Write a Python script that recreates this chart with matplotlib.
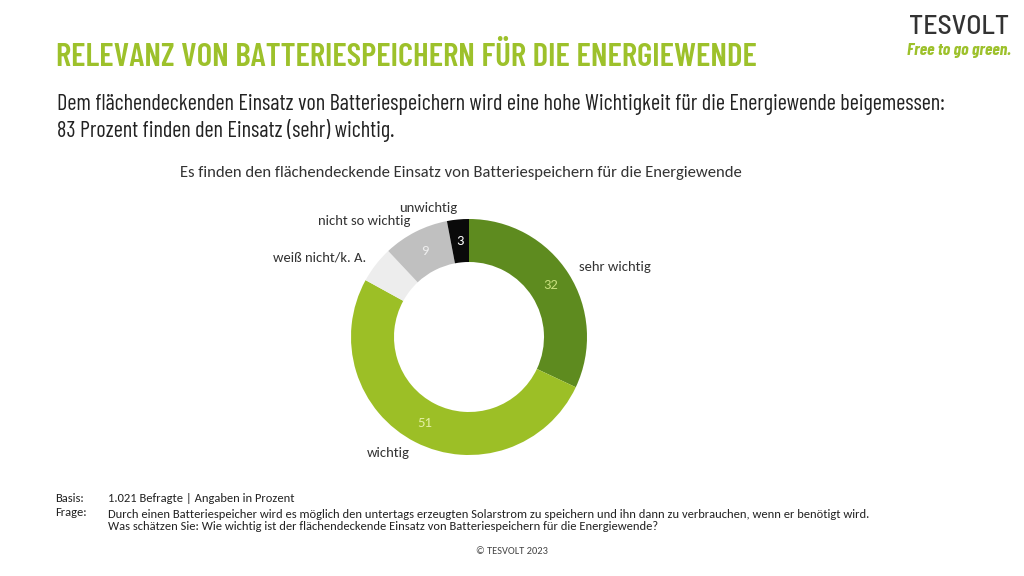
import matplotlib

matplotlib.use('Agg')
import matplotlib.pyplot as plt
import numpy as np

# --- data ---
categories = ['sehr wichtig', 'wichtig', 'weiß nicht/k. A.', 'nicht so wichtig', 'unwichtig']
values = [32, 51, 5, 9, 3]
value_shown = [True, True, False, True, True]

colors = ['#5E8B1F', '#9CBF26', '#EDEDED', '#C0C0C0', '#0A0A0A']
value_colors = ['#C6DE7C', '#E3EFA2', '#FFFFFF', '#EEEEEE', '#FFFFFF']

title = 'RELEVANZ VON BATTERIESPEICHERN FÜR DIE ENERGIEWENDE'
subtitle = ('Dem flächendeckenden Einsatz von Batteriespeichern wird eine hohe Wichtigkeit '
            'für die Energiewende beigemessen:\n83 Prozent finden den Einsatz (sehr) wichtig.')
chart_title = 'Es finden den flächendeckende Einsatz von Batteriespeichern für die Energiewende'
basis = '1.021 Befragte | Angaben in Prozent'
frage = ('Durch einen Batteriespeicher wird es möglich den untertags erzeugten Solarstrom zu '
         'speichern und ihn dann zu verbrauchen, wenn er benötigt wird.\n'
         'Was schätzen Sie: Wie wichtig ist der flächendeckende Einsatz von Batteriespeichern '
         'für die Energiewende?')

NARROW = ['Barlow Condensed', 'DejaVu Sans']
BODY = ['Carlito', 'Open Sans', 'DejaVu Sans']
GREEN = '#9DC12B'

W, H = 1024, 576
fig = plt.figure(figsize=(W / 100, H / 100), dpi=100)
fig.patch.set_facecolor('white')

# axes in pixel units so the donut sits where it should
ax = fig.add_axes([0, 0, 1, 1])
cx, cy, r_out, r_in = 469, H - 337, 118, 75
wedges, texts = ax.pie(values, colors=colors, labels=categories, startangle=90,
                       counterclock=False, radius=r_out, center=(cx, cy),
                       labeldistance=1.1,
                       wedgeprops=dict(width=r_out - r_in, edgecolor='none'),
                       textprops=dict(fontsize=10.5, color='#333333', family=BODY))
# pie picks alignment from absolute x, which is wrong with an offset centre
for w, t in zip(wedges, texts):
    ang = np.deg2rad((w.theta1 + w.theta2) / 2)
    t.set_ha('left' if np.cos(ang) > 0 else 'right')
    t.set_va('center')

r_mid = (r_out + r_in) / 2
for w, v, show, c in zip(wedges, values, value_shown, value_colors):
    if not show:
        continue
    ang = np.deg2rad((w.theta1 + w.theta2) / 2)
    ax.text(cx + r_mid * np.cos(ang), cy + r_mid * np.sin(ang), str(v),
            ha='center', va='center', fontsize=10.5, color=c, family=BODY)

ax.set_xlim(0, W)
ax.set_ylim(0, H)
ax.set_aspect('auto')
ax.axis('off')

# --- header ---
fig.text(56 / W, 1 - 57 / H, title, fontsize=23.8, fontweight='semibold', color=GREEN,
         family=NARROW, va='center', ha='left')
fig.text(57 / W, 1 - 118 / H, subtitle, fontsize=16, color='#222222',
         family=NARROW, va='center', ha='left', linespacing=1.2)
fig.text(180 / W, 1 - 173 / H, chart_title, fontsize=12, color='#333333',
         family=BODY, va='center', ha='left')

# logo
fig.text(959 / W, 1 - 27 / H, 'TESVOLT', fontsize=20, color='#333333',
         family=['Barlow Semi Condensed', 'DejaVu Sans'], fontweight='medium',
         va='center', ha='center')
fig.text(959 / W, 1 - 51 / H, 'Free to go green.', fontsize=12.6, color=GREEN,
         fontweight='bold', style='italic', family=NARROW, va='center', ha='center')

# --- footer ---
fs = 9
fig.text(55 / W, 1 - 498 / H, 'Basis:', fontsize=fs, color='#222222', family=BODY, va='center')
fig.text(108 / W, 1 - 498 / H, basis, fontsize=fs, color='#222222', family=BODY, va='center')
fig.text(55 / W, 1 - 513 / H, 'Frage:', fontsize=fs, color='#222222', family=BODY, va='center')
fig.text(108 / W, 1 - 520.5 / H, frage, fontsize=fs, color='#222222', family=BODY,
         va='center', linespacing=1.15)
fig.text(512 / W, 1 - 551 / H, '© TESVOLT 2023', fontsize=7.5, color='#444444',
         family=BODY, va='center', ha='center')

fig.savefig('out.png', dpi=100)
